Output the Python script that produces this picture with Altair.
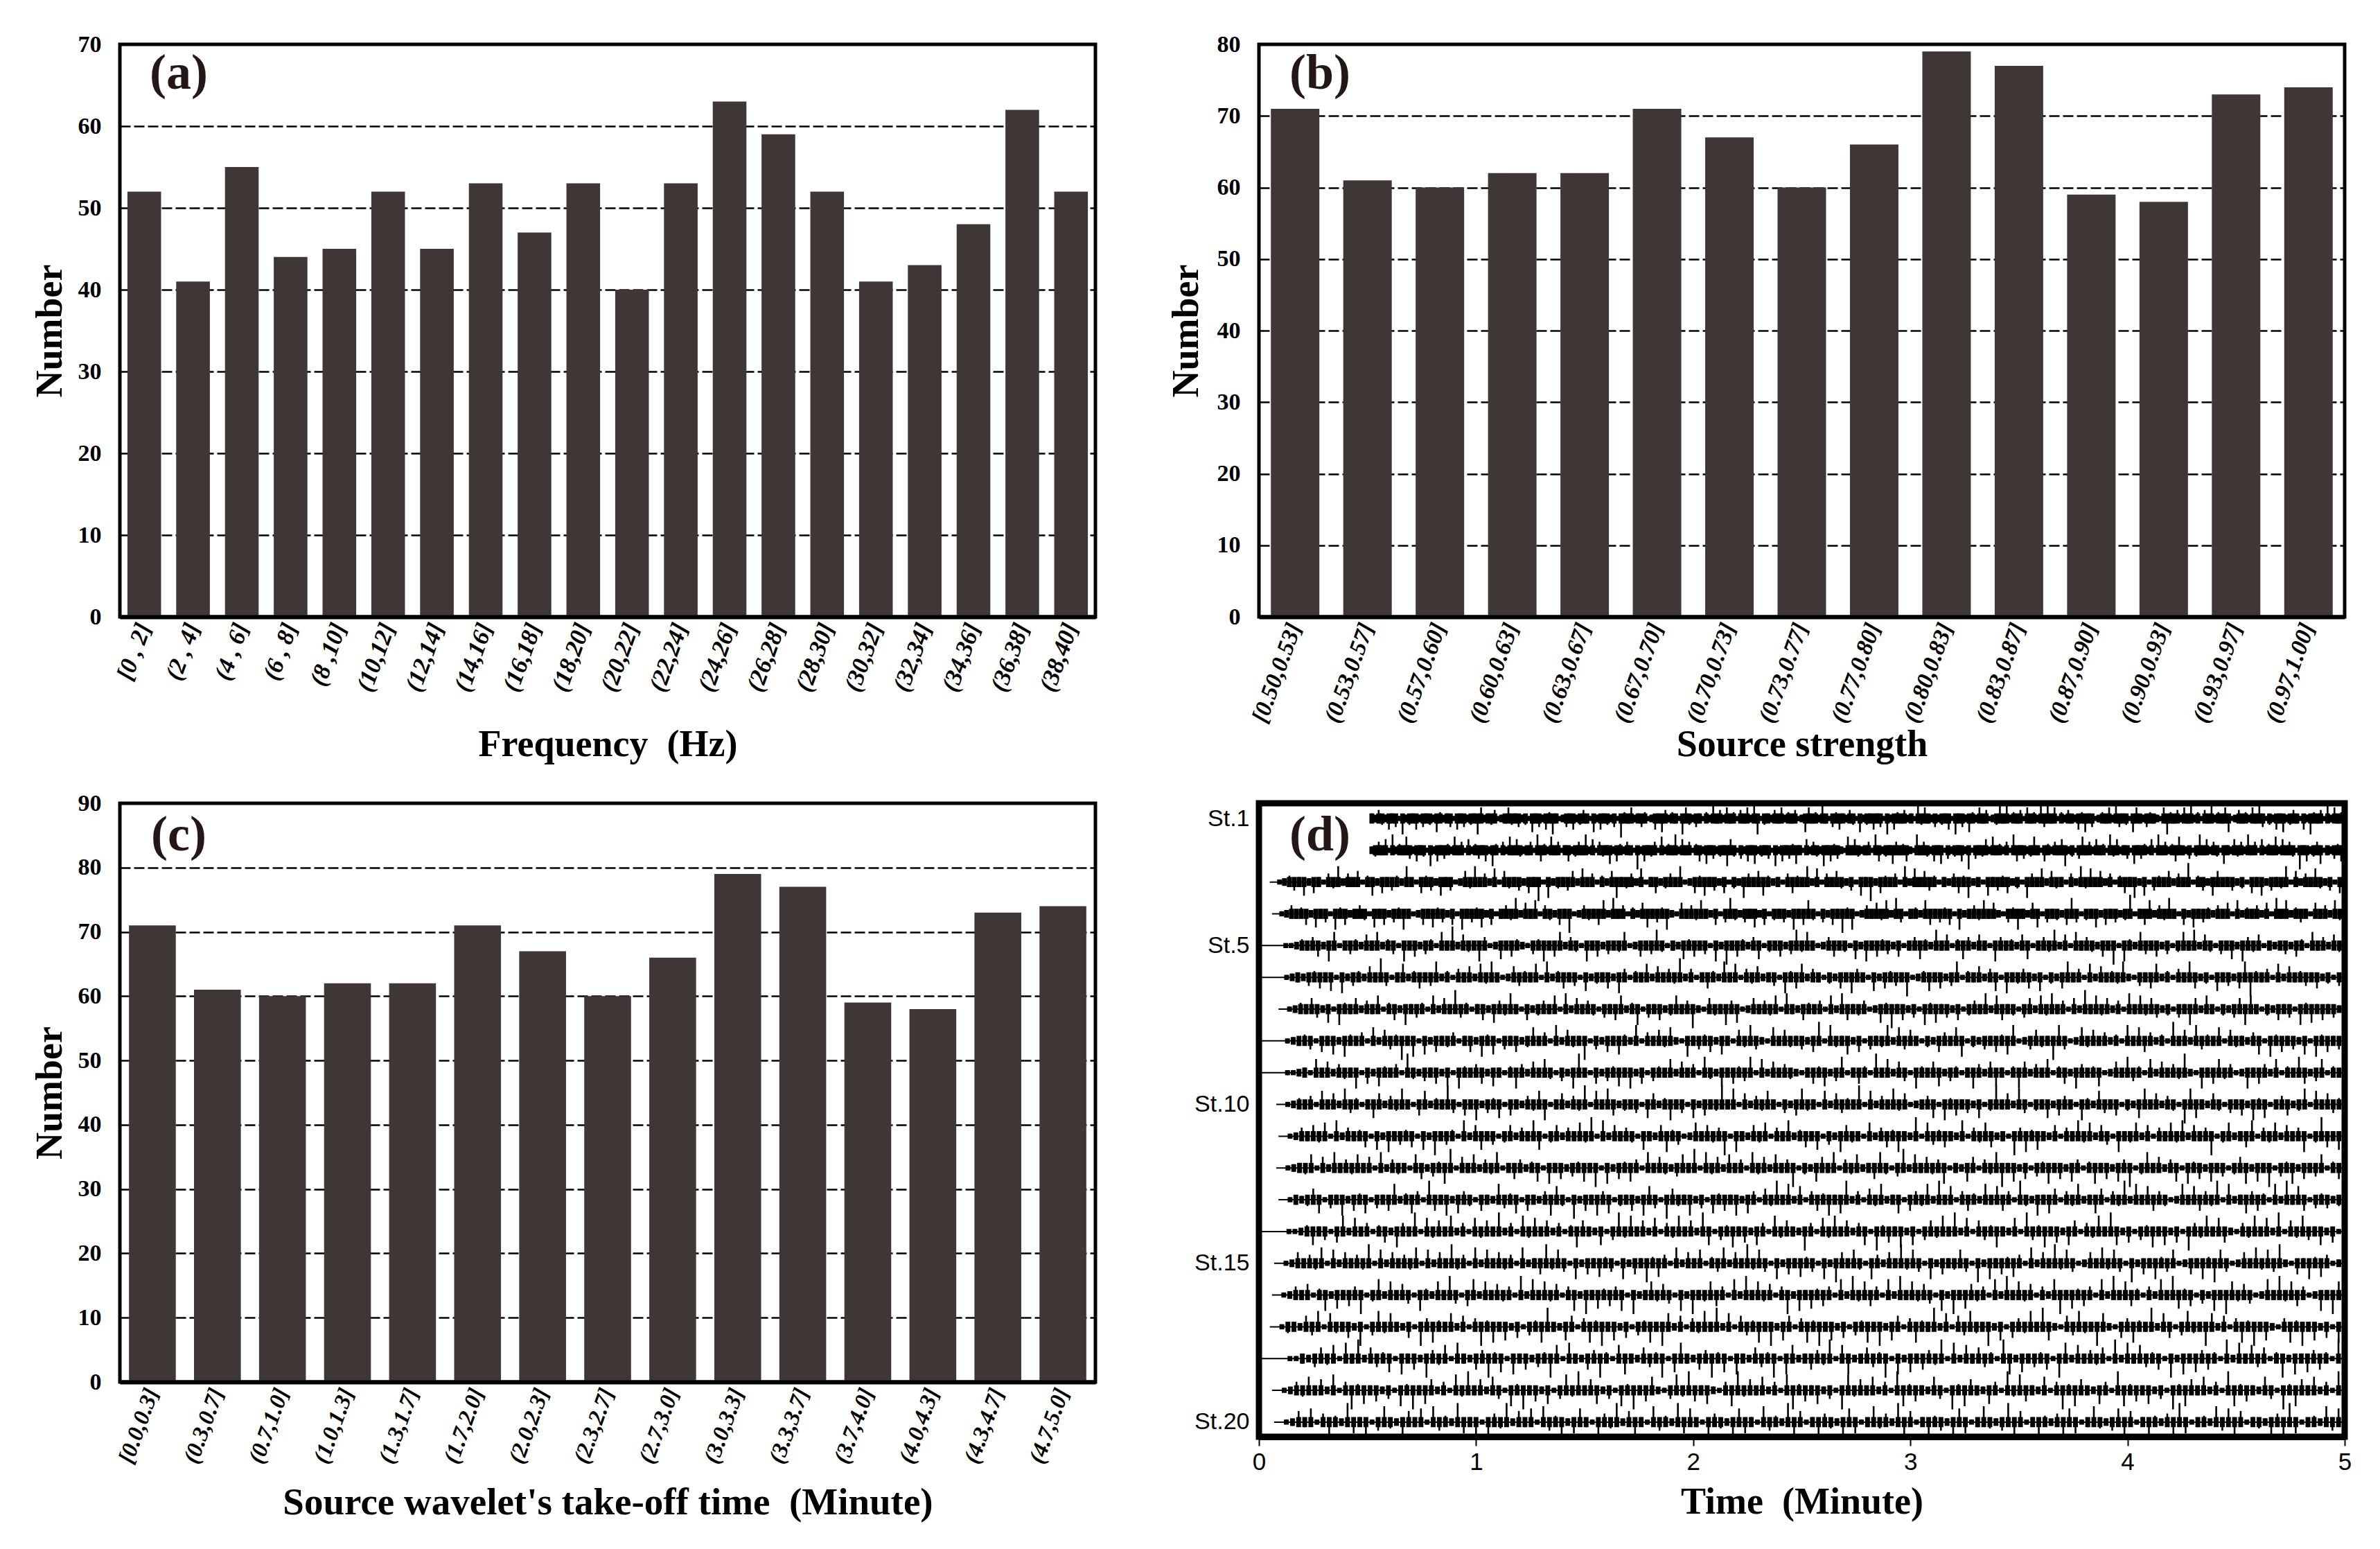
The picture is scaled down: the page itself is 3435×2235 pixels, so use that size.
import altair as alt
import pandas as pd

labels_a = ["[0 , 2]", "(2 , 4]", "(4 , 6]", "(6 , 8]", "(8 ,10]", "(10,12]", "(12,14]", "(14,16]", "(16,18]", "(18,20]",
            "(20,22]", "(22,24]", "(24,26]", "(26,28]", "(28,30]", "(30,32]", "(32,34]", "(34,36]", "(36,38]", "(38,40]"]
values_a = [52, 41, 55, 44, 45, 52, 45, 53, 47, 53, 40, 53, 63, 59, 52, 41, 43, 48, 62, 52]

labels_b = ["[0.50,0.53]", "(0.53,0.57]", "(0.57,0.60]", "(0.60,0.63]", "(0.63,0.67]", "(0.67,0.70]", "(0.70,0.73]", "(0.73,0.77]",
            "(0.77,0.80]", "(0.80,0.83]", "(0.83,0.87]", "(0.87,0.90]", "(0.90,0.93]", "(0.93,0.97]", "(0.97,1.00]"]
values_b = [71, 61, 60, 62, 62, 71, 67, 60, 66, 79, 77, 59, 58, 73, 74]

labels_c = ["[0.0,0.3]", "(0.3,0.7]", "(0.7,1.0]", "(1.0,1.3]", "(1.3,1.7]", "(1.7,2.0]", "(2.0,2.3]", "(2.3,2.7]",
            "(2.7,3.0]", "(3.0,3.3]", "(3.3,3.7]", "(3.7,4.0]", "(4.0,4.3]", "(4.3,4.7]", "(4.7,5.0]"]
values_c = [71, 61, 60, 62, 62, 71, 67, 60, 66, 79, 77, 59, 58, 73, 74]

# Panel (d): visual estimates of each trace's deflection class (0-9), swing alternating up and down.
trace_start = [0.52, 0.52, 0.05, 0.06, 0.0, 0.0, 0.09, 0.0, 0.0, 0.08, 0.09, 0.08, 0.09, 0.0, 0.07, 0.06, 0.05, 0.0, 0.06, 0.07]
# Deflection of each class, as a share of the spacing between stations.
class_size = [0.0, 0.08, 0.12, 0.16, 0.2, 0.27, 0.35, 0.43, 0.5, 0.6]
traces = [
"3254263518243625342742351635243862345123643524173526483125362453172634251943623541263752431864253142735263415362781432536243512763428315463254172436351826435231746325243618352742635124937243516342857361425326473512436285341763254321684352637241538243671253426395142637245316284351726342",
"2453618243752634182635427351624536284152736423518642735136245382615437264253192634517243826351462735243864152637243518263547316254283645217364235186243753462183542637152436291534627342518635247316425368241573526341846235173542618352467325148362541732645283516243726354193624571325463",
"00124537263154825361472635428316452735126483527164352639182435627351426834527136245381264735261428536742315643827153642517392643518273654132564823173546241853726431528473625146382715436253914527633524163725348162537425163",
"00125346273518462354173625483126374526183547261354826371542639125436728351426735482163547326158425372614352836741526394812536472851342763546182354736215483267153426851437263524913672548316273542536172435261837245316352741",
"00000112435628713542637245183625417392643851273642154836725418362534712635841327463518293642571436258473125634172836452613574283614752631853426713548261735426391842753625147382641537285461323526417352648",
"00000123254637182542639513724635824153627483126543718246351724362851437263549251364283715462351846725314263853172645391247362581436257183456271426835172634482153672415386241735268943517263453624152",
"00124365271843625371462835417263954136275483162453718263541536724815362473592164385712635471832643517286345127493625184735261453827634156274835162937462518374652415386273142568731426351847363524",
"00000123451637284351726549381726345136284715362473518264391526374281536472183546273164852173643526918437261534827563142653781425364781256439851274635241837652419362854371643257184635271846352",
"00000112317362543816274351942536271843562731485263741528931625473826154372635184273645817263542136472581364193726518436725413852673148625371462853471263854172635492183674512836527143862571432",
"00124351736285413762548316724395163825471632547813625491738624351762483517263493816254731526843172654391725384612357184635271493628514372653184275361427836254198732641536284713562481736543",
"00125364718253461728354617293541826735146253871462537491826354173268451273645918326471538246371528643172564832917546328154762319584732615384726518347261537482635914723681547263581496372",
"00123471628354736182543176254891637254813652471836254739182647518364257391846273518462735914276381547236841592736458132761548937261548362751483627591483625718462735146827391548263571463",
"00132467153826471536824751963827541632854716325874192638571436287519643825174638275164938271564837925164823716548293715642837651942837615482376154928376541283765491823756418293761545243",
"00000112473516827351462853917463825174639251847362514863271594836271548362971548362751846329517483625719463827156483927165483271954836276154839726154837261954837621548372916485372612",
"00126354817263549172635481726394518273645182369475182637451826394751826371458263947518263745182963741852639475182634751928364751826394751263847519263845712638497512638475921638475124",
"00125361482736591482736518427395168273645192837461582937465819237465182934765182937461592837465182947651829374651829376451829374615289374651829376415283974615283974651283947651283972",
"00143265817436291584732619584372615948372615489327615849372615483972615483927165483927615849372615483927615843927165843927165483972165843972165843927615843972615849372158493726184",
"00000113256471839265471836295471832659471836254971832659417832654917832659471832654918723654917823654918273654918273654198273546198273546192837546192837564192837561492837564193",
"00125473628159473625184937625184936275184936271584936725184936721584963721589463725189463725198463725198463275194863275194863271594863275198463725194863725198463275194863725193",
"00126371584296371584296371854296371854926371854926731854926731854296731854297631854297613854297613845297613845297613842597613842597613842579613842579613428579613428579613428572",
]

BAR = "#3e3735"
SERIF = "Liberation Serif"
SANS = "Liberation Sans"


def panel_letter(text, px, py, size=72):
    return alt.Chart(pd.DataFrame({"t": [text]})).mark_text(
        font=SERIF, fontWeight="bold", fontSize=size, color="#231815", align="center", baseline="middle"
    ).encode(x=alt.value(px), y=alt.value(py), text="t:N")


def bar_panel(labels, values, title, ymax, w, h, pad, lab_size, title_y, title_x, title_size, letter, lx, ly):
    df = pd.DataFrame({"label": labels, "value": values})
    bars = alt.Chart(df).mark_bar(color=BAR).encode(
        x=alt.X("label:N", sort=labels, scale=alt.Scale(paddingInner=pad, paddingOuter=pad / 2),
                axis=alt.Axis(title=title, labelAngle=-70, labelAlign="right", labelBaseline="middle",
                              labelFont=SERIF, labelFontStyle="italic", labelFontWeight="bold", labelFontSize=lab_size,
                              labelColor="black", labelPadding=10, labelOverlap=False, labelLimit=300, ticks=False,
                              domain=True, domainColor="black", domainWidth=6, grid=False, zindex=1,
                              titleFont=SERIF, titleFontWeight="bold", titleFontSize=title_size, titleColor="black",
                              titleY=title_y, titleBaseline="middle")),
        y=alt.Y("value:Q", scale=alt.Scale(domain=[0, ymax], nice=False),
                axis=alt.Axis(title="Number", values=list(range(0, ymax + 1, 10)), ticks=False, domain=False,
                              labelFont=SERIF, labelFontWeight="bold", labelFontSize=34, labelColor="black", labelPadding=27,
                              grid=True, gridColor="black", gridDash=[15, 5], gridWidth=2.5, gridOpacity=1,
                              titleFont=SERIF, titleFontWeight="bold", titleFontSize=54, titleColor="black",
                              titleX=title_x, titleBaseline="middle")),
    )
    return (bars + panel_letter(letter, lx, ly)).properties(
        width=w, height=h, view=alt.ViewBackground(stroke="black", strokeWidth=5, fill="white"))


rows = []
for st, (t0, s) in enumerate(zip(trace_start, traces), start=1):
    n = len(s)
    for i, ch in enumerate(s):
        a = class_size[int(ch)]
        core_half = min(a, class_size[3])
        rows.append({"st": st, "t": t0 + (5 - t0) * i / (n - 1),
                     "mid": st,
                     "tip": st + (1 if i % 2 else -1) * a,
                     "lo": st - core_half, "hi": st + core_half})
tr = pd.DataFrame(rows)

x_d = alt.X("t:Q", scale=alt.Scale(domain=[0, 5], nice=False),
            axis=alt.Axis(title="Time\u00a0\u00a0(Minute)", values=[0, 1, 2, 3, 4, 5], format="d", grid=False, tickSize=13, tickColor="black",
                          tickWidth=2, domain=True, domainColor="black", domainWidth=9, zindex=1, labelFlush=False, labelFont=SANS, labelFontSize=35,
                          labelColor="black", labelPadding=6, titleFont=SERIF, titleFontWeight="bold", titleFontSize=54,
                          titleColor="black", titleY=94, titleBaseline="middle"))
scale_d = alt.Scale(domain=[20.46, 0.52], nice=False, zero=False)
axis_d = alt.Axis(title=None, values=[1, 5, 10, 15, 20], labelExpr="'St.' + datum.value", ticks=False, domain=False, grid=False,
                  labelFont=SANS, labelFontSize=34, labelColor="black", labelPadding=14)

spikes = alt.Chart(tr).mark_rule(color="black", strokeWidth=2.6, clip=True).encode(
    x=x_d, y=alt.Y("tip:Q", scale=scale_d, axis=axis_d), y2="mid:Q")
core = alt.Chart(tr).mark_rule(color="black", strokeWidth=7, clip=True).encode(
    x=x_d, y=alt.Y("lo:Q", scale=scale_d, axis=axis_d), y2="hi:Q")
base = alt.Chart(tr).mark_line(color="black", strokeWidth=2, clip=True).encode(
    x=x_d, y=alt.Y("mid:Q", scale=scale_d, axis=axis_d), detail="st:N")

panel_d = (base + core + spikes + panel_letter("(d)", 88, 46)).properties(
    width=1567, height=914, view=alt.ViewBackground(stroke="black", strokeWidth=9, fill="white"))

panel_a = bar_panel(labels_a, values_a, "Frequency\u00a0\u00a0(Hz)", 70, 1408, 826, 0.31, 35, 184, -101, 54, "(a)", 85, 42)
panel_b = bar_panel(labels_b, values_b, "Source strength", 80, 1567, 826, 0.33, 34, 184, -105, 54, "(b)", 88, 42)
panel_c = bar_panel(labels_c, values_c, "Source wavelet's take-off time\u00a0\u00a0(Minute)", 90, 1408, 835, 0.28, 33, 173, -101, 55, "(c)", 85, 46)

chart = alt.concat(panel_a, panel_b, panel_c, panel_d, columns=2, spacing={"row": 269, "column": 236}, bounds="flush").configure(
    background="white", padding={"left": 34, "top": 36, "right": 5, "bottom": 5})

chart.save("out.html", embed_options={"renderer": "svg", "actions": False})
